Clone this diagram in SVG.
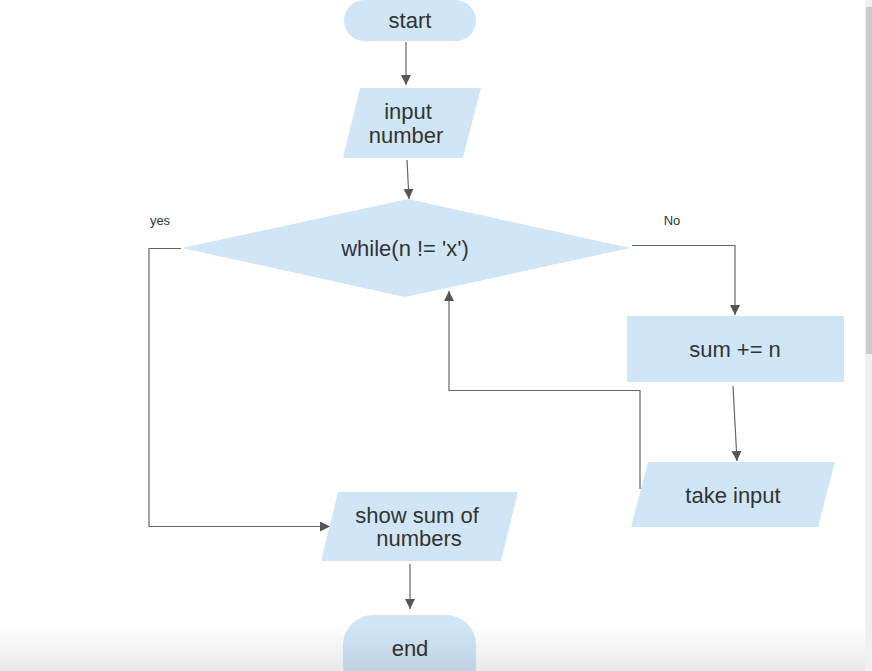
<svg xmlns="http://www.w3.org/2000/svg" width="872" height="671" viewBox="0 0 872 671">
<defs>
<style>
.shape{fill:#d0e6f7;stroke:none}
.lbl{font-family:"Liberation Sans",Arial,sans-serif;font-size:22px;fill:#333;text-anchor:middle}
.small{font-family:"Liberation Sans",Arial,sans-serif;font-size:13px;fill:#333;text-anchor:middle}
.conn{fill:none;stroke:#666;stroke-width:1.2}
</style>
<marker id="arr" viewBox="0 0 10 10" refX="10" refY="5" markerWidth="10" markerHeight="10" markerUnits="userSpaceOnUse" orient="auto">
<path d="M0,0 L10,5 L0,10 Z" fill="#555"/>
</marker>
<linearGradient id="shade" x1="0" y1="0" x2="0" y2="1">
<stop offset="0" stop-color="#000" stop-opacity="0"/>
<stop offset="1" stop-color="#000" stop-opacity="0.09"/>
</linearGradient>
</defs>
<rect width="872" height="671" fill="#fff"/>

<g id="connectors">
<path class="conn" d="M406,42 L406,85" marker-end="url(#arr)"/>
<path class="conn" d="M407,160 L409,199" marker-end="url(#arr)"/>
<path class="conn" d="M632,245.5 L735,245.5 L735,315" marker-end="url(#arr)"/>
<path class="conn" d="M733,386 L737,461" marker-end="url(#arr)"/>
<path class="conn" d="M640,489 L640,390.5 L449,390.5 L449,291" marker-end="url(#arr)"/>
<path class="conn" d="M181,248.5 L149,248.5 L149,526.5 L330,526.5" marker-end="url(#arr)"/>
<path class="conn" d="M410,564 L410,609" marker-end="url(#arr)"/>
<text class="small" x="160" y="225">yes</text>
<text class="small" x="672" y="225">No</text>
</g>

<g id="start">
<rect class="shape" x="344" y="0" width="132" height="41" rx="20.5"/>
<text class="lbl" x="410" y="28">start</text>
</g>

<g id="input">
<polygon class="shape" points="360,88 481,88 463,158 343,158"/>
<text class="lbl" x="408" y="119">input</text>
<text class="lbl" x="406" y="143">number</text>
</g>

<g id="decision">
<polygon class="shape" points="408,199 630,248 405,297 182,248"/>
<text class="lbl" x="405" y="256">while(n != 'x')</text>
</g>

<g id="sum">
<rect class="shape" x="627" y="316" width="217" height="66"/>
<text class="lbl" x="735" y="357">sum += n</text>
</g>

<g id="take">
<polygon class="shape" points="648,462 835,462 818,527 631,527"/>
<text class="lbl" x="733" y="503">take input</text>
</g>

<g id="show">
<polygon class="shape" points="338,492 518,492 501,561 321,561"/>
<text class="lbl" x="417" y="523">show sum of</text>
<text class="lbl" x="419" y="546">numbers</text>
</g>

<g id="end">
<rect class="shape" x="343" y="615" width="133" height="80" rx="30"/>
<text class="lbl" x="410" y="656">end</text>
</g>

<rect x="0" y="625" width="866" height="46" fill="url(#shade)"/>
<rect x="865" y="0" width="7" height="671" fill="#f0f0f0"/>
<rect x="866" y="7" width="6" height="347" fill="#cbcbcb"/>
</svg>
